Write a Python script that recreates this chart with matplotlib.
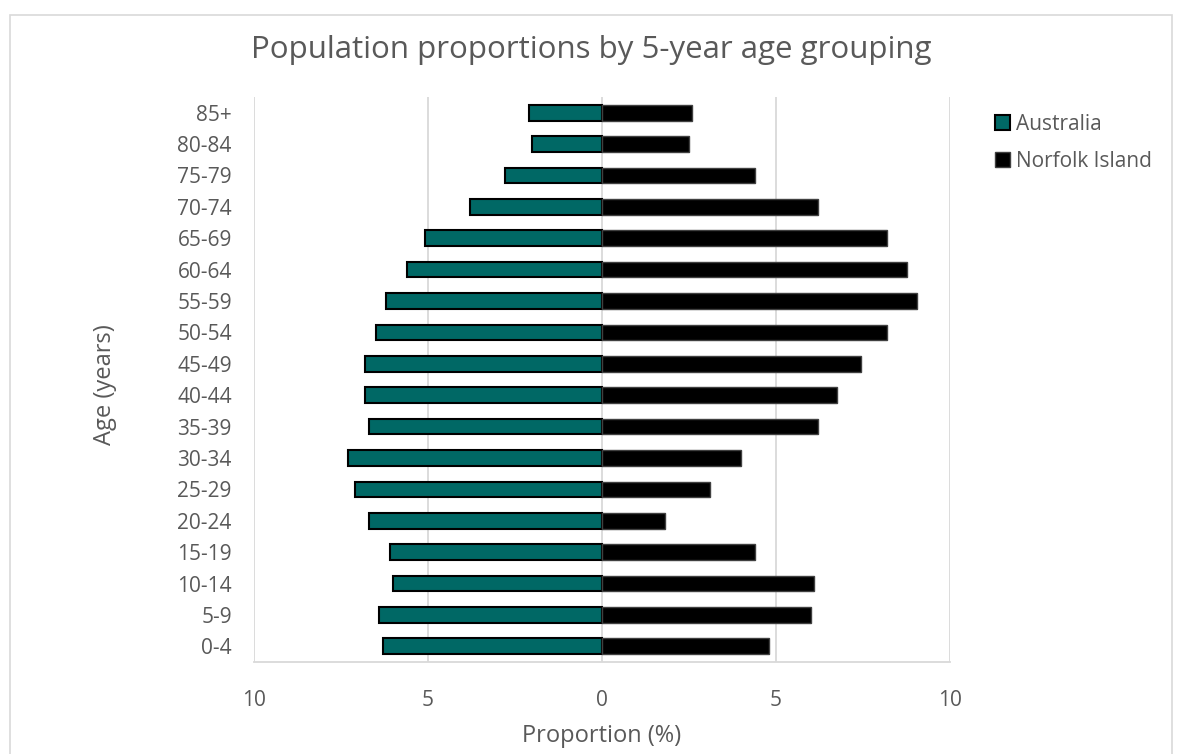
import matplotlib
matplotlib.use("Agg")
import matplotlib.pyplot as plt
import matplotlib.patches as patches
import numpy as np

plt.rcParams['font.family'] = ['Open Sans', 'DejaVu Sans']

age_groups = ["0-4", "5-9", "10-14", "15-19", "20-24", "25-29", "30-34", "35-39",
              "40-44", "45-49", "50-54", "55-59", "60-64", "65-69", "70-74",
              "75-79", "80-84", "85+"]
australia = [6.3, 6.4, 6.0, 6.1, 6.7, 7.1, 7.3, 6.7, 6.8, 6.8, 6.5, 6.2, 5.6, 5.1,
             3.8, 2.8, 2.0, 2.1]
norfolk = [4.8, 6.0, 6.1, 4.4, 1.8, 3.1, 4.0, 6.2, 6.75, 7.45, 8.2, 9.05, 8.75, 8.2,
           6.2, 4.4, 2.5, 2.6]
xticks = [-10, -5, 0, 5, 10]

W, H = 1184, 754
txt = "#595959"
grid = "#d9d9d9"

fig = plt.figure(figsize=(W / 100, H / 100), dpi=100)
ax = fig.add_axes([254 / W, 1 - 662 / H, 696 / W, 565 / H])

y = np.arange(len(age_groups))
ax.barh(y, [-v for v in australia], height=0.5, color="#006865",
        edgecolor="black", linewidth=1.5, label="Australia", zorder=3)
ax.barh(y, norfolk, height=0.5, color="black", edgecolor="#404040",
        linewidth=1, label="Norfolk Island", zorder=3)

ax.set_xlim(-10, 10)
ax.set_ylim(-0.5, len(age_groups) - 0.5)
ax.set_xticks(xticks)
ax.set_xticklabels([str(abs(t)) for t in xticks])
ax.set_yticks(y)
ax.set_yticklabels(age_groups)
ax.xaxis.grid(True, color=grid, linewidth=1.3, zorder=0)
ax.tick_params(axis="both", length=0, labelsize=15, colors=txt)
ax.tick_params(axis="x", pad=20)
ax.tick_params(axis="y", pad=16)
for s in ["top", "left", "right"]:
    ax.spines[s].set_visible(False)
ax.spines["bottom"].set_color(grid)
ax.spines["bottom"].set_linewidth(1.3)

fig.text(602 / W, 1 - 736 / H, "Proportion (%)", ha="center", va="center",
         fontsize=17, color=txt)
fig.text(105 / W, 1 - 385 / H, "Age (years)", ha="center", va="center",
         rotation=90, fontsize=17, color=txt)
fig.text(591 / W, 1 - 58 / H, "Population proportions by 5-year age grouping",
         ha="center", va="baseline", fontsize=22.5, color=txt)

fig.legend(loc="upper left", bbox_to_anchor=(995 / W, 1 - 114 / H),
           frameon=False, fontsize=15, labelcolor=txt, handlelength=0.7,
           handleheight=0.7, handletextpad=0.3, labelspacing=0.75,
           borderpad=0, borderaxespad=0)

fig.patches.append(patches.Rectangle((10 / W, -0.01), 1162 / W, 1 - 15 / H + 0.01,
                                     transform=fig.transFigure, fill=False,
                                     edgecolor=grid, linewidth=1.2))

fig.savefig("out.png", dpi=100)
